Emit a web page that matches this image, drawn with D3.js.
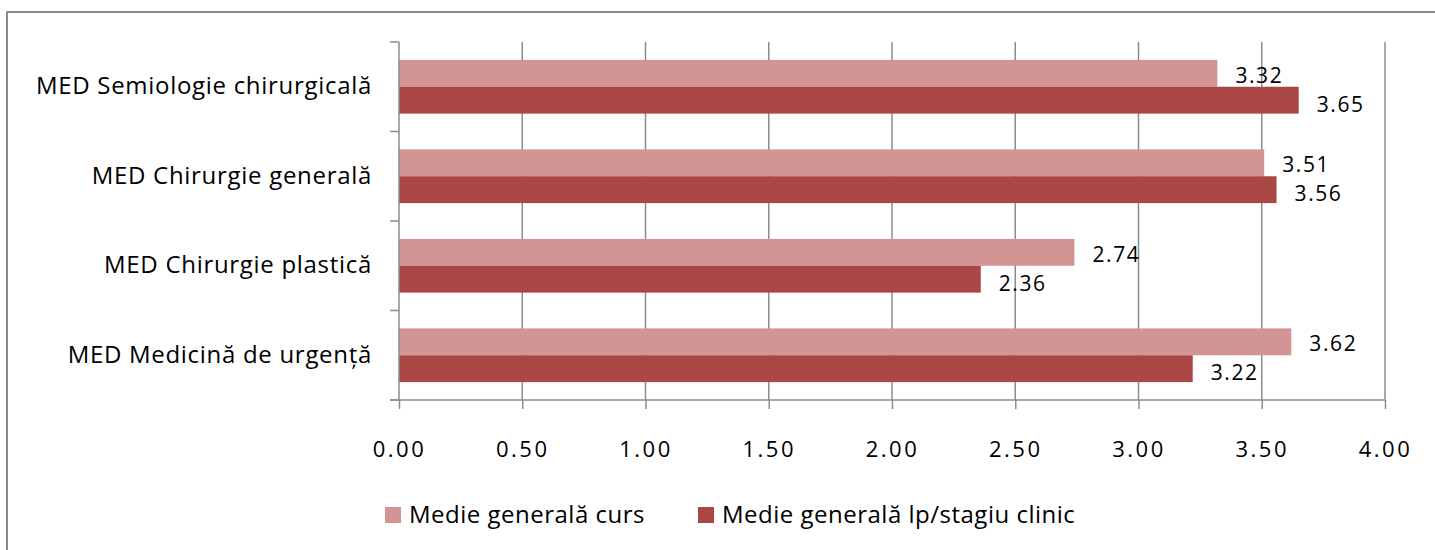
<!DOCTYPE html>
<meta charset="utf-8">
<style>
  body { margin: 0; background: #fff; }
  text { font-family: "Open Sans", "Noto Sans", sans-serif; fill: #000; }
</style>
<body>
<script src="https://d3js.org/d3.v7.min.js"></script>
<script>
  // data, top to bottom as drawn
  var categories = ["MED Semiologie chirurgicală", "MED Chirurgie generală", "MED Chirurgie plastică", "MED Medicină de urgență"];
  var seriesNames = ["Medie generală curs", "Medie generală lp/stagiu clinic"];
  var cursValues = [3.32, 3.51, 2.74, 3.62];
  var stagiuValues = [3.65, 3.56, 2.36, 3.22];
  var xTicks = [0, 0.5, 1, 1.5, 2, 2.5, 3, 3.5, 4];
  var colors = ["#d39494", "#aa4644"];

  var W = 1435, H = 550;
  var margin = { top: 42, left: 399, right: 50, bottom: 150 };
  var width = 1385 - margin.left,
      height = 400 - margin.top;

  var svg = d3.select("body").append("svg")
    .attr("width", W)
    .attr("height", H);

  // outer frame
  svg.append("rect")
    .attr("x", 7).attr("y", 12)
    .attr("width", 1440).attr("height", 560)
    .attr("fill", "none")
    .attr("stroke", "#8a8a8a")
    .attr("stroke-width", 2);

  var g = svg.append("g")
    .attr("transform", "translate(" + margin.left + "," + margin.top + ")");

  var x = d3.scaleLinear().domain([0, 4]).range([0, width]);
  var y = d3.scaleBand().domain(categories).range([0, height]).paddingInner(0.4).paddingOuter(0.2);
  var y1 = d3.scaleBand().domain([0, 1]).range([0, y.bandwidth()]);

  // gridlines
  g.selectAll(".grid")
    .data(xTicks.slice(1))
    .enter().append("line")
    .attr("x1", d => x(d)).attr("x2", d => x(d))
    .attr("y1", 0).attr("y2", height)
    .attr("stroke", "#8c8c8c")
    .attr("stroke-width", 1.5);

  var rows = categories.map(function (c, i) {
    return [cursValues[i], stagiuValues[i]];
  });

  var cat = g.selectAll(".cat")
    .data(categories)
    .enter().append("g")
    .attr("transform", d => "translate(0," + y(d) + ")");

  cat.selectAll("rect")
    .data((d, i) => rows[i])
    .enter().append("rect")
    .attr("x", 0)
    .attr("y", (d, j) => y1(j))
    .attr("width", d => x(d))
    .attr("height", y1.bandwidth())
    .attr("fill", (d, j) => colors[j]);

  cat.selectAll(".val")
    .data((d, i) => rows[i])
    .enter().append("text")
    .attr("x", d => x(d) + 18)
    .attr("y", (d, j) => y1(j) + y1.bandwidth() / 2 + (j === 0 ? 2 : 4))
    .attr("dy", "0.35em")
    .style("font-size", "21px")
    .style("letter-spacing", "1.6px")
    .text(d => d.toFixed(2));

  // y axis
  var bandStep = height / categories.length;
  var yTickPos = d3.range(categories.length + 1).map(i => i * bandStep);
  g.append("line")
    .attr("x1", 0).attr("x2", 0).attr("y1", 0).attr("y2", height)
    .attr("stroke", "#8c8c8c").attr("stroke-width", 1.5);
  g.selectAll(".ytick")
    .data(yTickPos)
    .enter().append("line")
    .attr("x1", -9).attr("x2", 0)
    .attr("y1", d => d).attr("y2", d => d)
    .attr("stroke", "#8c8c8c").attr("stroke-width", 1.5);
  g.selectAll(".ylab")
    .data(categories)
    .enter().append("text")
    .attr("x", -27)
    .attr("y", d => y(d) + y.bandwidth() / 2 - 1)
    .attr("dy", "0.35em")
    .attr("text-anchor", "end")
    .style("font-size", "24px")
    .style("letter-spacing", "0.7px")
    .text(d => d);

  // x axis
  var xAxis = g.append("g")
    .attr("transform", "translate(0," + height + ")")
    .call(d3.axisBottom(x).tickValues(xTicks).tickSize(9).tickPadding(32).tickFormat(d3.format(".2f")));
  xAxis.select(".domain").attr("stroke", "#8c8c8c").attr("stroke-width", 1.5).attr("d", "M-9,0H" + width);
  xAxis.selectAll(".tick line").attr("stroke", "#8c8c8c").attr("stroke-width", 1.5);
  xAxis.selectAll(".tick text")
    .style("font-size", "22px")
    .style("letter-spacing", "2.5px")
    .style("font-family", "'Open Sans', sans-serif")
    .attr("fill", "#000");

  // legend
  var legendX = [385, 698];
  var legend = svg.selectAll(".legend")
    .data(seriesNames)
    .enter().append("g")
    .attr("transform", (d, i) => "translate(" + legendX[i] + ",507)");
  legend.append("rect")
    .attr("width", 16).attr("height", 16)
    .attr("fill", (d, i) => colors[i]);
  legend.append("text")
    .attr("x", 24).attr("y", 8).attr("dy", "0.35em")
    .style("font-size", "24px")
    .style("letter-spacing", "0.5px")
    .text(d => d);
</script>
</body>
